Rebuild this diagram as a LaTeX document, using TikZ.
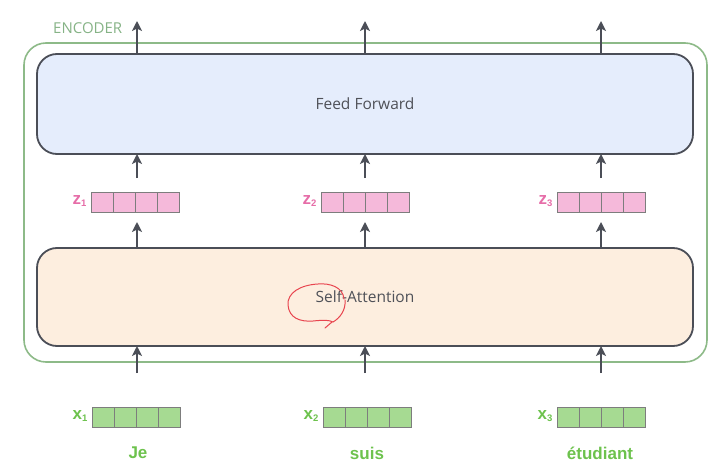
\documentclass[tikz,border=0pt]{standalone}
\usepackage{fontspec}
\setmainfont{Open Sans}
\newfontfamily\arialf{Liberation Sans}
\usetikzlibrary{arrows.meta}
\definecolor{encgreen}{HTML}{8DBA88}
\definecolor{enctext}{HTML}{86B386}
\definecolor{boxborder}{HTML}{4B4E57}
\definecolor{fffill}{HTML}{E5EDFC}
\definecolor{safill}{HTML}{FDEEDF}
\definecolor{zfill}{HTML}{F5B9DA}
\definecolor{xfill}{HTML}{A6DA92}
\definecolor{cellborder}{HTML}{7D7D7D}
\definecolor{zlabel}{HTML}{E66DA8}
\definecolor{xlabel}{HTML}{6DC24D}
\definecolor{txtgray}{HTML}{4F5158}
\definecolor{penred}{HTML}{E8454F}
\tikzset{
  bigbox/.style={draw=boxborder, line width=1.8pt, rounded corners=20pt, minimum width=656pt, inner sep=0pt, font=\fontsize{15.5}{18}\selectfont, text=txtgray},
  uparrow/.style={-{Stealth[length=10pt,width=10pt,inset=2.5pt]}, draw=boxborder, line width=1.9pt},
  cell/.style={draw=cellborder, line width=0.6pt, minimum width=22pt, minimum height=20pt, inner sep=0pt, outer sep=0pt},
  zcell/.style={cell, fill=zfill},
  xcell/.style={cell, fill=xfill},
  zlab/.style={font=\arialf\bfseries\fontsize{17}{19}\selectfont, text=zlabel, anchor=east},
  xlab/.style={font=\arialf\bfseries\fontsize{17}{19}\selectfont, text=xlabel, anchor=east},
  word/.style={font=\arialf\bfseries\fontsize{17}{19}\selectfont, text=xlabel}
}
\begin{document}
\begin{tikzpicture}[x=1pt,y=-1pt]
\useasboundingbox (0,0) rectangle (720,468);
% encoder frame
\node[draw=encgreen, line width=1.6pt, rounded corners=22pt, minimum width=683pt, minimum height=319pt, inner sep=0pt] (enc) at (365.5,202.5) {};
\node[font=\fontsize{15}{17}\selectfont, text=enctext, anchor=west, inner sep=0pt] (enclabel) at (53,28) {ENCODER};
% main boxes
\node[bigbox, fill=fffill, minimum height=100pt] (ff) at (365,104) {Feed Forward};
\node[bigbox, fill=safill, minimum height=98pt] (sa) at (365,297) {Self-Attention};
% vector rows
\foreach \i/\cx/\zx/\xx in {1/137/91/92, 2/365/321/323, 3/601/557/557} {
  \foreach \k in {0,1,2,3} {
    \node[zcell] (z\i c\k) at ({\zx+11+22*\k},202) {};
    \node[xcell] (x\i c\k) at ({\xx+11+22*\k},417) {};
  }
  \node[zlab] (zl\i) at ({\zx-1},201) {z\raisebox{-0.3ex}{\fontsize{9.5}{10}\selectfont\i}};
  \node[xlab] (xl\i) at ({\xx-1},416) {x\raisebox{-0.3ex}{\fontsize{9.5}{10}\selectfont\i}};
  \coordinate (top\i) at (\cx,21);
  \coordinate (ffb\i) at (\cx,154);
  \coordinate (zt\i) at (\cx,178);
  \coordinate (zb\i) at (\cx,222);
  \coordinate (sat\i) at (\cx,248);
  \coordinate (sab\i) at (\cx,346);
  \coordinate (in\i) at (\cx,373);
  \draw[uparrow] (\cx,54) -- (top\i);
  \draw[uparrow] (zt\i) -- (ffb\i);
  \draw[uparrow] (sat\i) -- (zb\i);
  \draw[uparrow] (in\i) -- (sab\i);
}
\node[word] (w1) at (138,453) {Je};
\node[word] (w2) at (367,453) {suis};
\node[word] (w3) at (600,453) {étudiant};
% red pen scribble
\draw[penred, line width=1pt, line cap=round]
  (344,299) .. controls (343,287) and (330,283) .. (318,284)
  .. controls (300,285) and (287,293) .. (288,305)
  .. controls (289,318) and (300,322) .. (313,321)
  .. controls (322,320) and (330,320) .. (333,322)
  .. controls (340,318) and (346,310) .. (345,300)
  (332,322) -- (325,328);
\end{tikzpicture}
\end{document}
